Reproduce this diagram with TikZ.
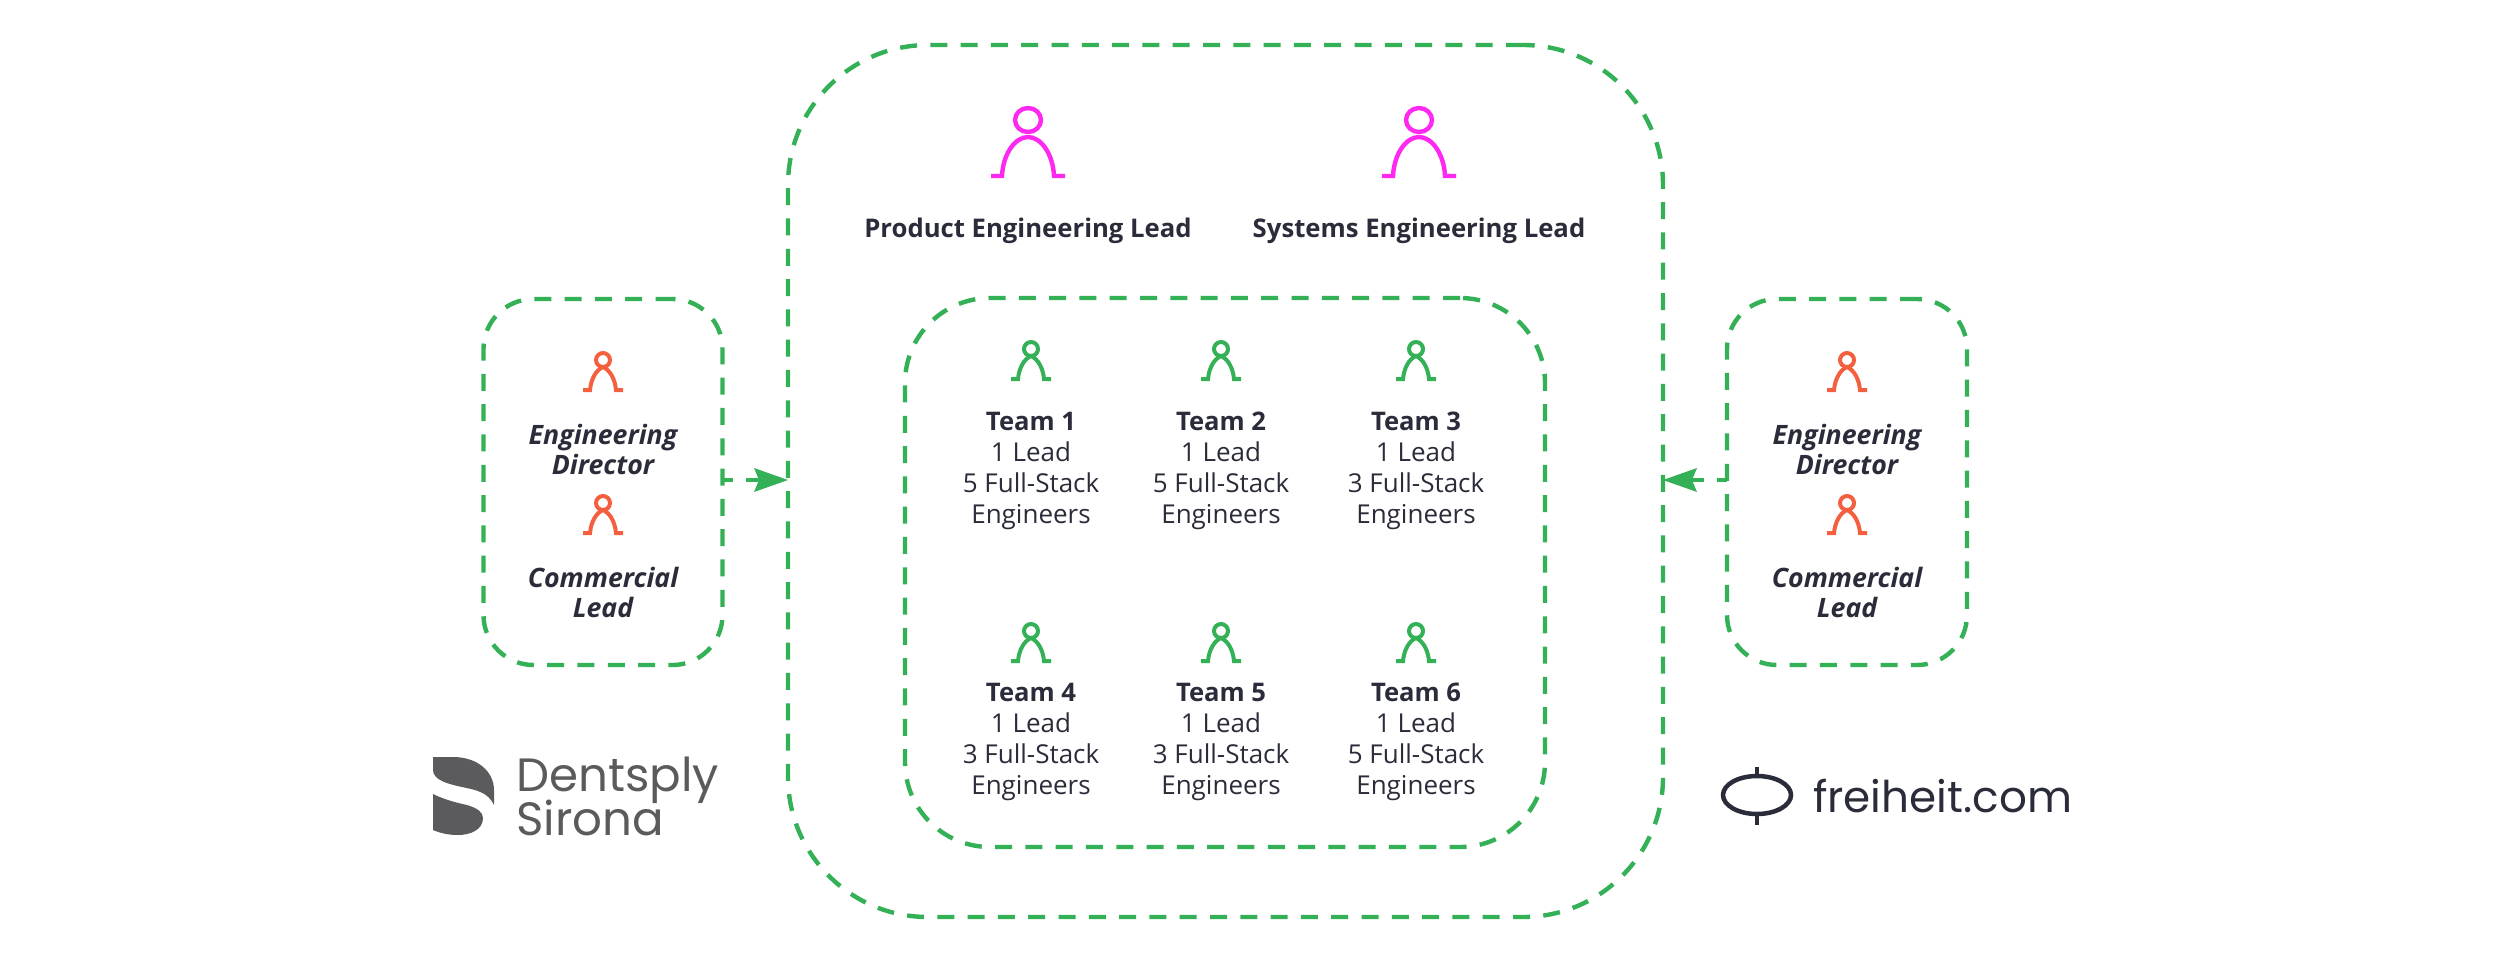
\documentclass[tikz,border=0pt]{standalone}
\usepackage{fontspec}
\setmainfont{Open Sans}
\newfontfamily\logofont{Poppins}
\usetikzlibrary{arrows.meta}
\definecolor{grn}{HTML}{34B057}
\definecolor{org}{HTML}{F4603F}
\definecolor{mag}{HTML}{FF28F0}
\definecolor{ink}{HTML}{2A2C3A}
\definecolor{gry}{HTML}{5B5B5D}
\newcommand{\teamhd}[1]{{\fontsize{25.6}{31}\selectfont\bfseries #1}}
\tikzset{
  dashbox/.style={draw=grn,line width=4.4pt,dash pattern=on 17pt off 13.3pt,inner sep=0pt,outer sep=0pt},
  conn/.style={draw=grn,line width=4.4pt,dash pattern=on 10pt off 13pt on 20pt off 13pt,-{Stealth[length=34pt,width=24pt,inset=5pt,fill=grn,line width=0pt]}},
  txt/.style={text=ink,align=center,inner sep=0pt,font=\fontsize{26}{31}\selectfont},
  headtxt/.style={text=ink,align=center,inner sep=0pt,font=\fontsize{25.7}{31}\selectfont\bfseries},
  sidetxt/.style={text=ink,align=center,inner sep=0pt,font=\fontsize{26.7}{30}\selectfont\bfseries\itshape},
  smallperson/.pic={
    \draw[line width=4pt,pic actions] (0,-30) circle (7);
    \draw[line width=4pt,pic actions] (-20,0) -- (-13,0) .. controls (-12,-11) and (-7,-20) .. (0,-23) .. controls (7,-20) and (12,-11) .. (13,0) -- (20,0);
  },
  bigperson/.pic={
    \draw[line width=4.4pt,pic actions] (0,-56) ellipse (13 and 12);
    \draw[line width=4.4pt,pic actions] (-37,0) -- (-26,0) .. controls (-25,-22) and (-13,-39) .. (0,-39) .. controls (13,-39) and (25,-22) .. (26,0) -- (37,0);
  },
}
\begin{document}
\begin{tikzpicture}[x=1pt,y=-1pt]
\useasboundingbox (0,0) rectangle (2500,962);
\node[dashbox,rounded corners=140pt,minimum width=875pt,minimum height=872pt] (main) at (1225.5,481) {};
\node[dashbox,rounded corners=85pt,minimum width=640pt,minimum height=549pt] (inner) at (1225,572.5) {};
\node[dashbox,rounded corners=50pt,minimum width=239pt,minimum height=366pt] (left) at (603,482) {};
\node[dashbox,rounded corners=50pt,minimum width=240pt,minimum height=366pt] (right) at (1847,482) {};
\draw[conn] (left.east |- 0,480) -- (main.west |- 0,480);
\draw[conn] (right.west |- 0,480) -- (main.east |- 0,480);

\pic[draw=mag] at (1028,176) {bigperson};
\pic[draw=mag] at (1419,176) {bigperson};
\node[headtxt] (pel) at (1028,231) {Product Engineering Lead};
\node[headtxt] (sel) at (1419,231) {Systems Engineering Lead};

\foreach \x in {603,1847}{
  \pic[draw=org] at (\x,390) {smallperson};
  \pic[draw=org] at (\x,533) {smallperson};
}
\node[sidetxt] (ed1) at (603,449) {Engineering\\Director};
\node[sidetxt] (cl1) at (603,592) {Commercial\\Lead};
\node[sidetxt] (ed2) at (1847,449) {Engineering\\Director};
\node[sidetxt] (cl2) at (1847,592) {Commercial\\Lead};

\foreach \x in {1031,1221,1416}{
  \pic[draw=grn] at (\x,379) {smallperson};
  \pic[draw=grn] at (\x,661) {smallperson};
}
\node[txt] (t1) at (1031,470.5) {\teamhd{Team 1}\\1 Lead\\5 Full-Stack\\Engineers};
\node[txt] (t2) at (1221,470.5) {\teamhd{Team 2}\\1 Lead\\5 Full-Stack\\Engineers};
\node[txt] (t3) at (1416,470.5) {\teamhd{Team 3}\\1 Lead\\3 Full-Stack\\Engineers};
\node[txt] (t4) at (1031,741.5) {\teamhd{Team 4}\\1 Lead\\3 Full-Stack\\Engineers};
\node[txt] (t5) at (1221,741.5) {\teamhd{Team 5}\\1 Lead\\3 Full-Stack\\Engineers};
\node[txt] (t6) at (1416,741.5) {\teamhd{Team 6}\\1 Lead\\5 Full-Stack\\Engineers};

% Dentsply Sirona logo
\fill[gry] (433,757) -- (453,757) .. controls (478,757) and (494,772) .. (494,790) -- (494,805) .. controls (488,792) and (476,790) .. (462,787) .. controls (448,784) and (433,780) .. (433,770) -- cycle;
\fill[gry] (433,794) .. controls (445,800) and (458,803) .. (467,805) .. controls (477,808) and (483,812) .. (483,818) .. controls (483,830) and (470,835) .. (458,835) .. controls (448,835) and (440,833) .. (433,830) -- cycle;
\node[text=gry,anchor=base west,inner sep=0pt,font=\logofont\fontsize{46.7}{44}\selectfont] (dent) at (516,791) {Dentsply};
\node[text=gry,anchor=base west,inner sep=0pt,font=\logofont\fontsize{46.7}{44}\selectfont] (sir) at (516,835) {Sirona};

% freiheit.com logo
\draw[ink,line width=4.5pt] (1757,795) ellipse (34 and 19);
\draw[ink,line width=4.5pt] (1757,767) -- (1757,776);
\draw[ink,line width=4.5pt] (1757,814) -- (1757,825);
\node[text=ink,anchor=base west,inner sep=0pt,font=\logofont\fontsize{43.7}{44}\selectfont] (frei) at (1813,812) {freiheit.com};
\end{tikzpicture}
\end{document}
